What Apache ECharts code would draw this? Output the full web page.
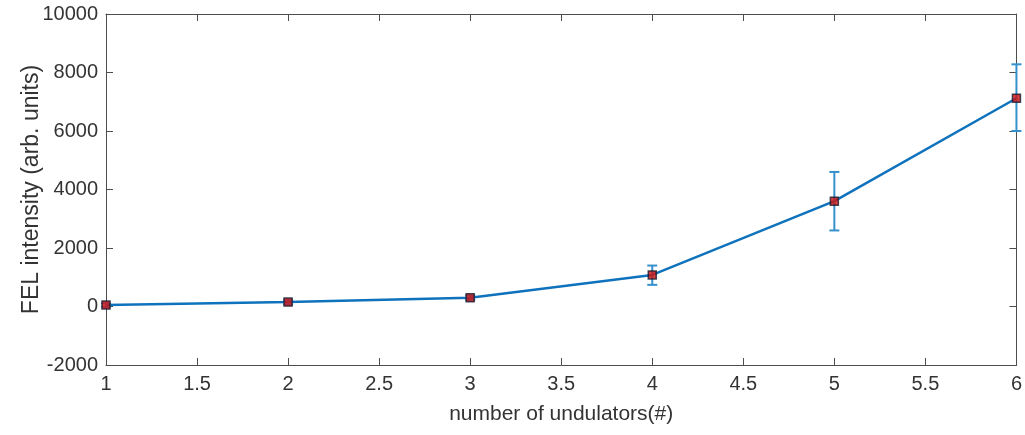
<!DOCTYPE html>
<html>
<head>
<meta charset="utf-8">
<script src="https://cdn.jsdelivr.net/npm/echarts@6/dist/echarts.min.js"></script>
<style>
html,body{margin:0;padding:0;background:#fff;}
#chart{width:1025px;height:435px;}
</style>
</head>
<body>
<div id="chart"></div>
<script>
// Number of undulators and measured FEL intensity with its error
const undulators = [1, 2, 3, 4, 5, 6];
const intensity = [50, 150, 300, 1080, 3600, 7120];
const errLow = [60, 80, 80, 340, 1000, 1120];
const errHigh = [60, 80, 80, 320, 1000, 1160];

const lineColor = '#0f72bd';
const barColor = '#3590cc';
const axisColor = '#4d4d4d';
const textColor = '#333';
const font = 'Liberation Sans';

const points = undulators.map((x, i) => [x, intensity[i]]);
const bars = undulators.map((x, i) => [x, intensity[i] - errLow[i], intensity[i] + errHigh[i]]);

const chart = echarts.init(document.getElementById('chart'));

const baseAxis = {
  axisLine: { show: true, onZero: false, lineStyle: { color: axisColor, width: 1 } },
  axisTick: { show: true, inside: true, length: 7, lineStyle: { color: axisColor } },
  splitLine: { show: false }
};

chart.setOption({
  animation: false,
  grid: { left: 106, right: 8, top: 14, bottom: 70 },
  xAxis: [
    Object.assign({}, baseAxis, {
      type: 'value', min: 1, max: 6, interval: 0.5,
      name: 'number of undulators(#)', nameLocation: 'middle', nameGap: 39,
      nameMoveOverlap: false,
      nameTextStyle: { fontFamily: font, fontSize: 21, color: textColor },
      axisLabel: { fontFamily: font, fontSize: 20, color: textColor, margin: 9,
        formatter: v => String(v) }
    }),
    Object.assign({}, baseAxis, {
      type: 'value', min: 1, max: 6, interval: 0.5, position: 'top',
      axisLabel: { show: false }
    })
  ],
  yAxis: [
    Object.assign({}, baseAxis, {
      type: 'value', min: -2000, max: 10000, interval: 2000,
      name: 'FEL intensity (arb. units)', nameLocation: 'middle', nameGap: 63,
      nameMoveOverlap: false,
      nameTextStyle: { fontFamily: font, fontSize: 23, color: textColor },
      axisLabel: { fontFamily: font, fontSize: 20, color: textColor, margin: 8,
        formatter: v => String(v) }
    }),
    Object.assign({}, baseAxis, {
      type: 'value', min: -2000, max: 10000, interval: 2000, position: 'right',
      axisLabel: { show: false }
    })
  ],
  series: [
    {
      type: 'line',
      data: points,
      symbol: 'none',
      lineStyle: { color: lineColor, width: 2.5 },
      z: 2
    },
    {
      type: 'custom',
      data: bars,
      z: 3,
      renderItem: function (params, api) {
        const x = api.value(0);
        const lo = api.coord([x, api.value(1)]);
        const hi = api.coord([x, api.value(2)]);
        const cap = 5;
        const style = { stroke: barColor, lineWidth: 2 };
        return {
          type: 'group',
          children: [
            { type: 'line', shape: { x1: lo[0], y1: lo[1], x2: hi[0], y2: hi[1] }, style: style },
            { type: 'line', shape: { x1: lo[0] - cap, y1: lo[1], x2: lo[0] + cap, y2: lo[1] }, style: style },
            { type: 'line', shape: { x1: hi[0] - cap, y1: hi[1], x2: hi[0] + cap, y2: hi[1] }, style: style }
          ]
        };
      }
    },
    {
      type: 'scatter',
      data: points,
      symbol: 'rect',
      symbolSize: 8,
      itemStyle: { color: '#d01010', borderColor: '#1a1a2e', borderWidth: 1.5 },
      z: 4
    }
  ]
});
</script>
</body>
</html>
